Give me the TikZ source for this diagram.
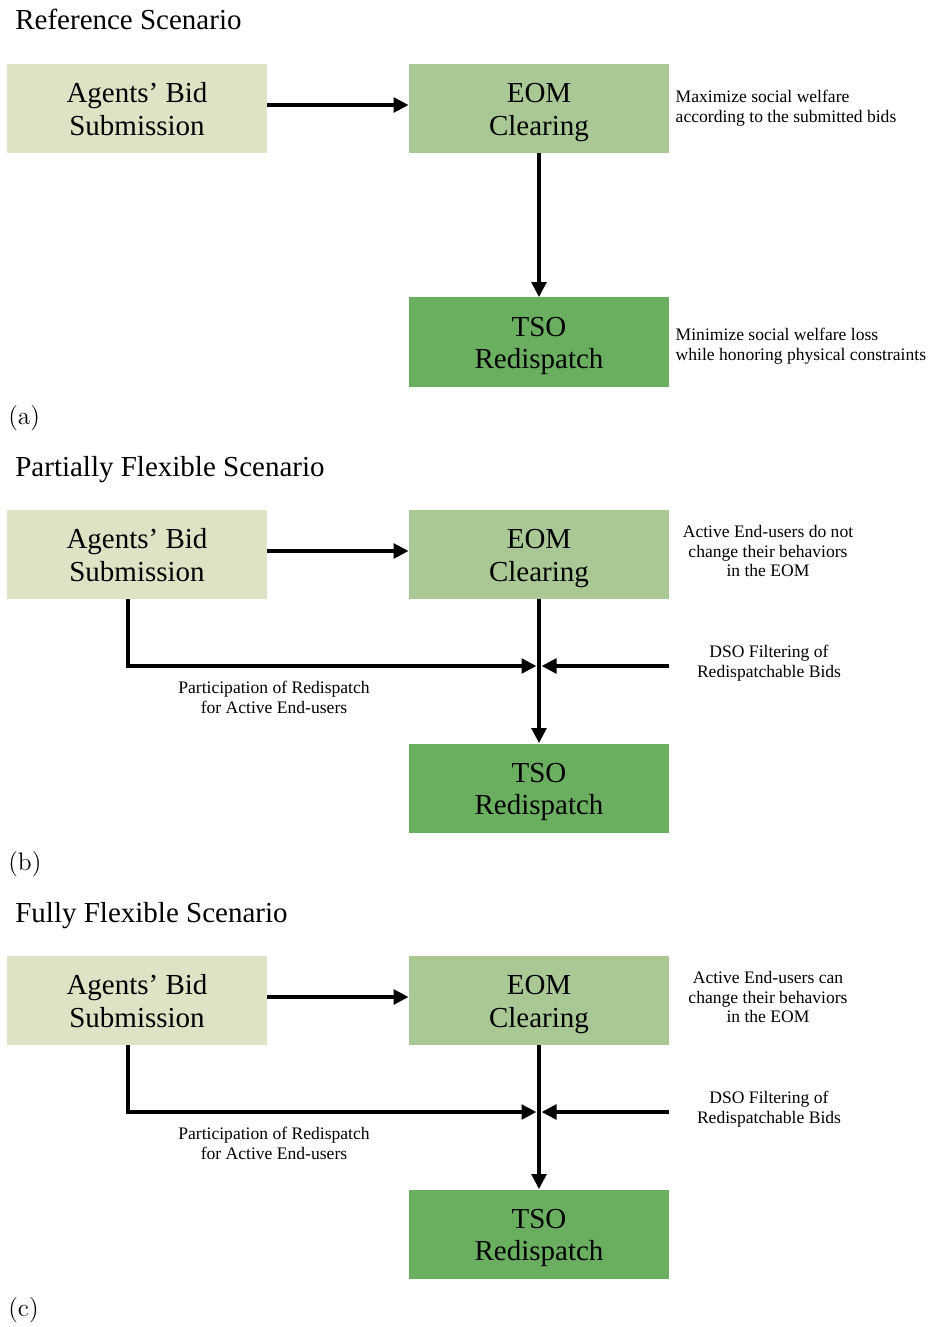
\documentclass[tikz,border=0pt]{standalone}
\usepackage{fontspec}
\newfontfamily\timesfont{Liberation Serif}
\usetikzlibrary{arrows.meta,positioning,calc}
\definecolor{BidKhaki}{HTML}{DEE3C6}
\definecolor{ClearGreen}{HTML}{A9C894}
\definecolor{RedispGreen}{HTML}{69AF5F}
\tikzset{
  flowarrow/.style={-{Triangle[length=3mm,width=2.9mm]}, line width=2.8pt, draw=black},
  note/.style={font=\timesfont\fontsize{10}{11.3}\selectfont, inner sep=0pt, align=center}
}

\begin{document}
\begin{tikzpicture}[
  box/.style={minimum width=5.2cm, minimum height=1.78cm, inner sep=0pt, align=center,
    text height=34.3pt, text depth=3.6pt, font=\timesfont\fontsize{16.5}{18.7}\selectfont},
  heading/.style={anchor=base west, inner sep=0pt, font=\timesfont\fontsize{16.5}{19}\selectfont},
  sublabel/.style={anchor=base west, inner sep=0pt, font=\fontsize{14.4}{17}\selectfont}
]
\useasboundingbox (0,0) rectangle (18.6,-26.54);

% (a) reference scenario
\node[heading] at (0.3,-0.6) (titleA) {Reference Scenario};
\node[box, fill=BidKhaki] at (2.74,-2.17) (bidA) {Agents’ Bid\\Submission};
\node[box, fill=ClearGreen] at (10.78,-2.17) (eomA) {EOM\\Clearing};
\node[box, fill=RedispGreen] at (10.78,-6.84) (tsoA) {TSO\\Redispatch};
\node[note, align=left, right=0.12cm of eomA] (noteA) {Maximize social welfare\\according to the submitted bids};
\node[note, align=left, right=0.12cm of tsoA, yshift=-0.09cm] (lossA) {Minimize social welfare loss\\while honoring physical constraints};
\node[sublabel] at (0.16,-8.48) (labA) {(a)};
\draw[flowarrow] ([yshift=0.07cm]bidA.east) -- ([yshift=0.07cm]eomA.west);
\draw[flowarrow] (eomA) -- (tsoA);

% (b) partially flexible scenario
\begin{scope}[yshift=-8.92cm]
\node[heading] at (0.3,-0.6) (titleB) {Partially Flexible Scenario};
\node[box, fill=BidKhaki] at (2.74,-2.17) (bidB) {Agents’ Bid\\Submission};
\node[box, fill=ClearGreen] at (10.78,-2.17) (eomB) {EOM\\Clearing};
\node[box, fill=RedispGreen] at (10.78,-6.84) (tsoB) {TSO\\Redispatch};
\coordinate (jointB) at (10.78,-4.4);
\node[note] at (15.36,-2.1) (noteB) {Active End-users do not\\change their behaviors\\in the EOM};
\node[note] at (15.38,-4.34) (dsoB) {DSO Filtering of\\Redispatchable Bids};
\node[note] at (5.48,-5.02) (partB) {Participation of Redispatch\\for Active End-users};
\node[sublabel] at (0.16,-8.48) (labB) {(b)};
\draw[flowarrow] ([yshift=0.07cm]bidB.east) -- ([yshift=0.07cm]eomB.west);
\draw[flowarrow] (eomB) -- (tsoB);
\draw[flowarrow] ([xshift=-0.18cm]bidB.south) |- ([xshift=-0.05cm]jointB);
\draw[flowarrow] (eomB.east |- jointB) -- ([xshift=0.05cm]jointB);
\end{scope}

% (c) fully flexible scenario
\begin{scope}[yshift=-17.84cm]
\node[heading] at (0.3,-0.6) (titleC) {Fully Flexible Scenario};
\node[box, fill=BidKhaki] at (2.74,-2.17) (bidC) {Agents’ Bid\\Submission};
\node[box, fill=ClearGreen] at (10.78,-2.17) (eomC) {EOM\\Clearing};
\node[box, fill=RedispGreen] at (10.78,-6.84) (tsoC) {TSO\\Redispatch};
\coordinate (jointC) at (10.78,-4.4);
\node[note] at (15.36,-2.1) (noteC) {Active End-users can\\change their behaviors\\in the EOM};
\node[note] at (15.38,-4.34) (dsoC) {DSO Filtering of\\Redispatchable Bids};
\node[note] at (5.48,-5.02) (partC) {Participation of Redispatch\\for Active End-users};
\node[sublabel] at (0.16,-8.48) (labC) {(c)};
\draw[flowarrow] ([yshift=0.07cm]bidC.east) -- ([yshift=0.07cm]eomC.west);
\draw[flowarrow] (eomC) -- (tsoC);
\draw[flowarrow] ([xshift=-0.18cm]bidC.south) |- ([xshift=-0.05cm]jointC);
\draw[flowarrow] (eomC.east |- jointC) -- ([xshift=0.05cm]jointC);
\end{scope}
\end{tikzpicture}
\end{document}
